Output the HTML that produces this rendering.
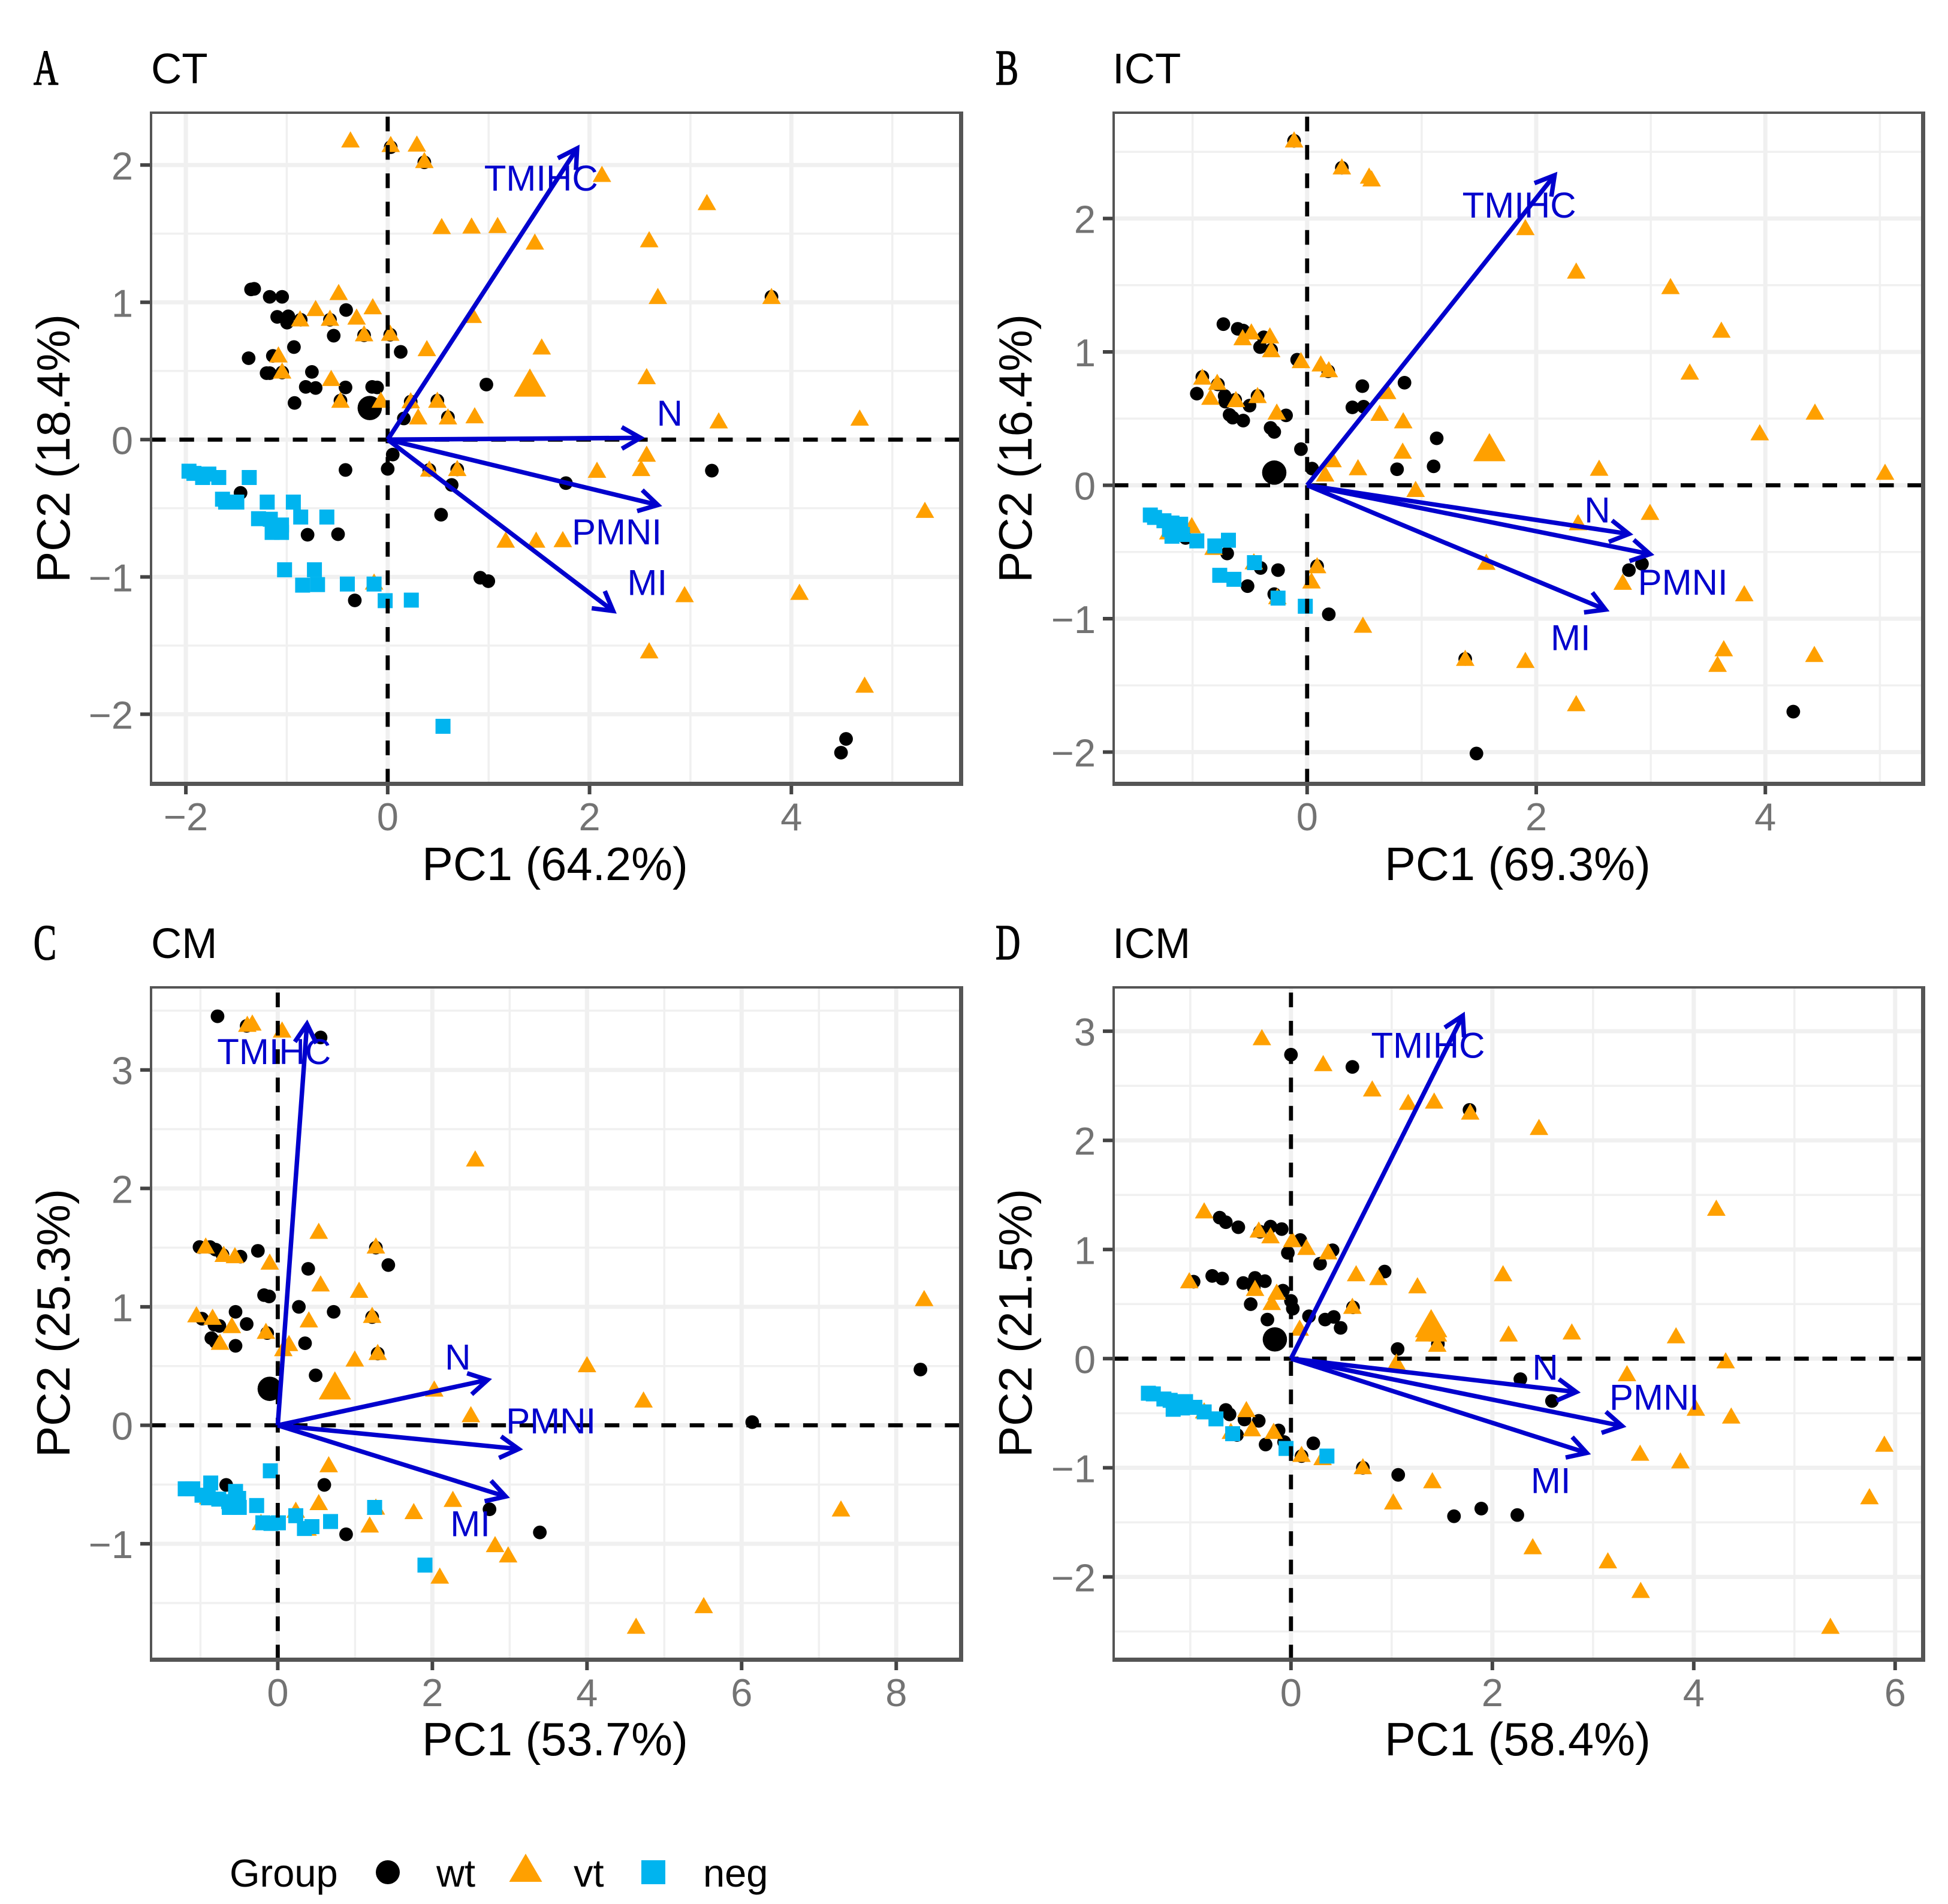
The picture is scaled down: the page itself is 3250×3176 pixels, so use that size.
<!DOCTYPE html>
<html lang="en">
<head>
<meta charset="utf-8">
<title>PCA biplots CT ICT CM ICM</title>
<style>
html,body{margin:0;padding:0;background:#fff;}
svg{display:block;font-family:"Liberation Sans",Arial,sans-serif;}
.tag{font-family:"Liberation Serif",serif;font-size:84px;stroke:#000;stroke-width:1.6px;}
.title{font-size:71px;fill:#000;}
.axt{font-size:77.5px;fill:#000;text-anchor:middle;}
.leg{font-size:65px;fill:#000;}
</style>
</head>
<body>
<svg id="figure" xmlns="http://www.w3.org/2000/svg" width="3250" height="3176" viewBox="0 0 3250 3176">
  <rect x="0" y="0" width="3250" height="3176" fill="#fff"/>

  <text class="tag" transform="translate(56,141) scale(0.68,1)">A</text>
  <text class="title" x="252" y="139">CT</text>
  <text class="axt" x="926" y="1468">PC1 (64.2%)</text>
  <text class="axt" transform="translate(116,748) rotate(-90) scale(1.01,1)">PC2 (18.4%)</text>
  <g id="panel-ct"></g>

  <text class="tag" transform="translate(1661,141) scale(0.68,1)">B</text>
  <text class="title" x="1856" y="139">ICT</text>
  <text class="axt" x="2532" y="1468">PC1 (69.3%)</text>
  <text class="axt" transform="translate(1721,748) rotate(-90) scale(1.01,1)">PC2 (16.4%)</text>
  <g id="panel-ict"></g>

  <text class="tag" transform="translate(56,1600) scale(0.68,1)">C</text>
  <text class="title" x="252" y="1598">CM</text>
  <text class="axt" x="926" y="2928">PC1 (53.7%)</text>
  <text class="axt" transform="translate(116,2207) rotate(-90) scale(1.01,1)">PC2 (25.3%)</text>
  <g id="panel-cm"></g>

  <text class="tag" transform="translate(1661,1600) scale(0.68,1)">D</text>
  <text class="title" x="1856" y="1598">ICM</text>
  <text class="axt" x="2532" y="2928">PC1 (58.4%)</text>
  <text class="axt" transform="translate(1721,2207) rotate(-90) scale(1.01,1)">PC2 (21.5%)</text>
  <g id="panel-icm"></g>

  <g>
    <text class="leg" x="383" y="3147">Group</text>
    <circle cx="647" cy="3123" r="20" fill="#000"/>
    <text class="leg" x="728" y="3147">wt</text>
    <polygon points="877,3092 904.5,3139 849.5,3139" fill="#FFA000"/>
    <text class="leg" x="957" y="3147">vt</text>
    <rect x="1070" y="3103" width="40" height="40" fill="#00B4EF"/>
    <text class="leg" x="1173" y="3147">neg</text>
  </g>
</svg>

<script>
const loadingNames = ['TMIHC', 'N', 'PMNI', 'MI'];

/* Panel A: CT */
const ctXTicks = [-2, 0, 2, 4];
const ctYTicks = [-2, -1, 0, 1, 2];
const ctLoadX = [1.877, 2.505, 2.677, 2.234];
const ctLoadY = [2.121, 0.013, -0.476, -1.248];
const ctLabelX = [1.52, 2.794, 2.27, 2.572];
const ctLabelY = [1.896, 0.184, -0.68, -1.048];
const ctWtCentroid = [[-0.178, 0.23]];
const ctVtCentroid = [[1.409, 0.409]];
const ctWt = [[-1.354,1.094],[-1.323,1.098],[-1.169,1.04],[-1.046,1.04],[-1.095,.894],[-.985,.898],[-.997,.852],[-.412,.944],[-.572,.873],[-.862,.873],[-.234,.76],[.025,.764],[-.535,.757],[.129,.639],[-.929,.674],[-1.138,.61],[-1.378,.593],[-1.2,.484],[-1.169,.484],[-.751,.493],[-1.046,.489],[-.812,.384],[-.714,.376],[-.418,.38],[-.154,.384],[-.105,.38],[-.923,.267],[-.468,.284],[.978,.401],[.492,.284],[.228,.276],[.16,.154],[.597,.163],[3.803,1.04],[.03,2.13],[.363,2.02],[-.418,-.221],[0,-.213],[.05,-.109],[3.212,-.226],[.412,-.221],[.689,-.217],[1.766,-.317],[.634,-.33],[-1.458,-.388],[.529,-.547],[-.794,-.693],[-.492,-.689],[.917,-1.006],[.997,-1.031],[-.326,-1.171],[4.542,-2.18],[4.492,-2.28]];
const ctVt = [[-.369,2.18],[.03,2.147],[.289,2.15],[.363,2.03],[2.123,1.929],[3.163,1.724],[.535,1.549],[.831,1.553],[1.089,1.557],[1.458,1.436],[2.591,1.453],[2.677,1.04],[3.803,1.04],[-.486,1.069],[-.714,.952],[-.868,.877],[-.572,.881],[-.308,.89],[-.148,.965],[-.234,.768],[.025,.772],[.843,.902],[.388,.66],[1.526,.672],[-1.083,.614],[-1.046,.497],[-.56,.443],[2.566,.456],[-.468,.284],[-.068,.284],[.228,.28],[.492,.284],[.302,.163],[.597,.163],[.862,.171],[3.28,.134],[4.677,.154],[2.566,-.109],[.412,-.217],[.689,-.213],[2.074,-.226],[2.511,-.213],[5.323,-.518],[1.169,-.735],[1.471,-.735],[1.735,-.731],[2.942,-1.132],[4.08,-1.115],[-.135,-1.04],[2.591,-1.541],[4.726,-1.791]];
const ctNeg = [[-1.969,-.23],[-1.92,-.246],[-1.834,-.276],[-1.772,-.251],[-1.674,-.276],[-1.372,-.276],[-1.637,-.434],[-1.606,-.455],[-1.495,-.455],[-1.194,-.455],[-.935,-.455],[-.862,-.564],[-.603,-.564],[-1.28,-.576],[-1.163,-.58],[-1.052,-.622],[-1.145,-.676],[-1.052,-.676],[-1.022,-.948],[-.726,-.948],[-.843,-1.06],[-.695,-1.056],[-.4,-1.052],[-.135,-1.052],[-.025,-1.173],[.234,-1.169],[.548,-2.088]];

/* Panel B: ICT */
const ictXTicks = [0, 2, 4];
const ictYTicks = [-2, -1, 0, 1, 2];
const ictLoadX = [2.16, 2.809, 2.993, 2.604];
const ictLoadY = [2.324, -0.365, -0.516, -0.932];
const ictLabelX = [1.851, 2.533, 3.28, 2.3];
const ictLabelY = [2.092, -0.193, -0.735, -1.151];
const ictWtCentroid = [[-0.287, 0.095]];
const ictVtCentroid = [[1.591, 0.279]];
const ictWt = [[-.114,2.582],[.303,2.38],[-.731,1.208],[-.606,1.173],[-.558,1.16],[-.379,1.109],[-.411,1.036],[-.314,1.014],[-.087,.941],[.184,.855],[.482,.743],[.85,.769],[-.963,.687],[-.915,.812],[-.779,.756],[-.72,.67],[-.714,.627],[-.628,.64],[-.433,.67],[-.503,.597],[-.677,.528],[-.65,.507],[-.558,.485],[-.184,.524],[-.319,.43],[-.287,.4],[-.054,.271],[.395,.584],[.493,.589],[1.131,.352],[.043,.125],[.785,.12],[1.104,.142],[-.698,-.511],[-1.061,-.395],[-.406,-.62],[-.254,-.636],[.087,-.606],[-.52,-.756],[-.287,-.816],[.189,-.967],[2.809,-.636],[2.923,-.589],[1.38,-1.302],[4.244,-1.697],[1.478,-2.011]];
const ictVt = [[-.114,2.586],[.303,2.384],[.541,2.315],[.563,2.294],[1.905,1.929],[2.349,1.603],[3.172,1.487],[3.616,1.16],[3.34,.846],[4.433,.546],[3.951,.391],[5.045,.095],[2.549,.125],[-.487,1.147],[-.563,1.104],[-.325,1.117],[-.314,1.014],[-.054,.932],[.119,.907],[.189,.864],[-.915,.808],[-.785,.769],[-.844,.657],[-.622,.64],[-.433,.67],[-.265,.546],[.698,.7],[.633,.537],[.839,.481],[.834,.253],[.222,.189],[.444,.129],[.157,.082],[.947,-.034],[2.993,-.206],[2.365,-.283],[-1.007,-.305],[-1.212,-.352],[-.817,-.468],[-.465,-.576],[1.564,-.58],[.087,-.606],[2.755,-.73],[.038,-.72],[3.816,-.816],[-.26,-.838],[.487,-1.052],[3.637,-1.228],[4.428,-1.271],[3.583,-1.345],[1.38,-1.3],[1.905,-1.316],[2.349,-1.64]];
const ictNeg = [[-1.369,-.223],[-1.332,-.241],[-1.25,-.266],[-1.18,-.283],[-1.104,-.292],[-1.202,-.331],[-1.115,-.339],[-1.18,-.382],[-1.088,-.369],[-.963,-.417],[-.806,-.455],[-.687,-.412],[-.763,-.675],[-.639,-.705],[-.46,-.58],[-.254,-.846],[-.016,-.907]];

/* Panel C: CM */
const cmXTicks = [0, 2, 4, 6, 8];
const cmYTicks = [-1, 0, 1, 2, 3];
const cmLoadX = [0.378, 2.715, 3.116, 2.948];
const cmLoadY = [3.388, 0.384, -0.2, -0.601];
const cmLabelX = [-0.048, 2.329, 3.534, 2.49];
const cmLabelY = [3.145, 0.568, 0.027, -0.839];
const cmWtCentroid = [[-0.104, 0.308]];
const cmVtCentroid = [[0.739, 0.33]];
const cmWt = [[-.779,3.453],[-.402,3.372],[.554,3.274],[-1.012,1.505],[-.876,1.505],[-.803,1.483],[-.715,1.44],[-.482,1.424],[-.257,1.473],[1.269,1.5],[1.43,1.353],[.394,1.321],[-.177,1.099],[-.112,1.088],[.273,1],[-.546,.958],[.723,.958],[-.98,.9],[1.221,.914],[-.819,.849],[-.755,.839],[-.402,.855],[-.859,.736],[-.803,.704],[-.546,.671],[.353,.693],[-.137,.779],[1.293,.606],[.49,.422],[8.313,.471],[6.137,.027],[-.667,-.503],[.602,-.503],[2.739,-.709],[3.39,-.904],[.884,-.92]];
const cmVt = [[-.394,3.382],[-.329,3.393],[.056,3.334],[-.932,1.511],[-.699,1.44],[-.554,1.429],[-.104,1.375],[.53,1.635],[1.269,1.511],[.554,1.191],[1.052,1.137],[2.554,2.246],[8.361,1.067],[-1.052,.93],[-.843,.909],[-.594,.839],[1.221,.925],[.402,.887],[-.153,.79],[-.747,.698],[.145,.687],[.072,.644],[1.293,.612],[.996,.557],[4,.509],[2.024,.303],[4.731,.211],[2.498,.087],[.659,-.336],[.53,-.655],[2.265,-.628],[1.269,-.693],[.233,-.72],[1.759,-.731],[1.189,-.844],[-.217,-.823],[.386,-.871],[7.285,-.709],[2.811,-1.01],[2.98,-1.097],[2.096,-1.276],[5.51,-1.525],[4.635,-1.699],[-.9,-.606]];
const cmNeg = [[-1.197,-.536],[-1.1,-.536],[-.867,-.487],[-.98,-.59],[-.9,-.612],[-.763,-.623],[-.635,-.644],[-.546,-.558],[-.627,-.693],[-.506,-.617],[-.498,-.693],[-.096,-.384],[-.273,-.677],[-.193,-.823],[-.088,-.828],[.008,-.823],[.233,-.763],[.683,-.812],[.345,-.871],[.442,-.855],[1.253,-.693],[1.904,-1.18]];

/* Panel D: ICM */
const icmXTicks = [0, 2, 4, 6];
const icmYTicks = [-2, -1, 0, 1, 2, 3];
const icmLoadX = [1.706, 2.833, 3.288, 2.937];
const icmLoadY = [3.143, -0.306, -0.617, -0.864];
const icmLabelX = [1.361, 2.525, 3.608, 2.58];
const icmLabelY = [2.861, -0.088, -0.364, -1.128];
const icmWtCentroid = [[-0.16, 0.176]];
const icmVtCentroid = [[1.392, 0.317]];
const icmWt = [[0,2.785],[.61,2.673],[1.773,2.279],[-.708,1.292],[-.647,1.25],[-.523,1.204],[-.203,1.21],[-.092,1.187],[-.308,1.163],[.092,1.087],[-.031,.969],[.413,.993],[.289,.87],[.93,.798],[-.782,.758],[-.683,.734],[-.967,.705],[-.357,.74],[-.474,.693],[-.259,.71],[-.08,.623],[0,.529],[.018,.458],[-.4,.499],[-.369,.652],[.616,.47],[-.234,.358],[.179,.388],[.339,.358],[.425,.382],[.493,.282],[1.059,.088],[1.459,.135],[2.278,-.188],[2.592,-.388],[-.647,-.47],[-.61,-.511],[-.462,-.558],[-.32,-.57],[-.123,-.658],[-.536,-.699],[-.068,-.764],[-.252,-.787],[.222,-.776],[.105,-.893],[.714,-1],[1.065,-1.065],[1.619,-1.444],[1.89,-1.374],[2.248,-1.433]];
const icmVt = [[-.289,2.938],[.32,2.7],[.807,2.468],[1.164,2.345],[1.422,2.357],[1.78,2.256],[2.463,2.115],[4.224,1.375],[-.862,1.351],[-.32,1.175],[-.203,1.122],[.012,1.087],[.154,1.016],[.369,.975],[.647,.775],[.868,.74],[-1.01,.71],[-.357,.64],[1.256,.664],[-.142,.605],[-.191,.511],[2.106,.775],[.61,.476],[.086,.276],[1.324,.223],[1.459,.223],[2.161,.223],[2.789,.241],[3.824,.206],[1.453,.129],[4.317,-.023],[1.047,-.035],[3.337,-.141],[4.021,-.458],[-.443,-.47],[-.862,-.482],[4.372,-.529],[-.172,-.67],[-.388,-.646],[-.597,-.67],[3.467,-.87],[5.893,-.787],[.105,-.881],[.314,-.91],[.714,-.993],[3.867,-.94],[1.404,-1.122],[1.016,-1.316],[5.745,-1.269],[2.401,-1.727],[3.147,-1.856],[3.473,-2.127],[5.357,-2.456]];
const icmNeg = [[-1.416,-.317],[-1.367,-.323],[-1.262,-.37],[-1.2,-.382],[-1.139,-.394],[-1.047,-.394],[-1.17,-.464],[-1.078,-.452],[-.954,-.446],[-.862,-.488],[-.745,-.552],[-.579,-.688],[-.049,-.823],[.357,-.893]];

const SVG_NS = 'http://www.w3.org/2000/svg';
const PANEL_SPECS = [
  {key:'ct', box:[252,1604,188,1307], xLim:[-2.345,5.685], yLim:[2.381,-2.505], xTicks:ctXTicks, yTicks:ctYTicks, wt:ctWt, vt:ctVt, neg:ctNeg, wtC:ctWtCentroid, vtC:ctVtCentroid, lx:ctLoadX, ly:ctLoadY, tx:ctLabelX, ty:ctLabelY},
  {key:'ict', box:[1858,3209,188,1307], xLim:[-1.689,5.38], yLim:[2.793,-2.236], xTicks:ictXTicks, yTicks:ictYTicks, wt:ictWt, vt:ictVt, neg:ictNeg, wtC:ictWtCentroid, vtC:ictVtCentroid, lx:ictLoadX, ly:ictLoadY, tx:ictLabelX, ty:ictLabelY},
  {key:'cm', box:[252,1604,1647,2768], xLim:[-1.639,8.843], yLim:[3.697,-1.976], xTicks:cmXTicks, yTicks:cmYTicks, wt:cmWt, vt:cmVt, neg:cmNeg, wtC:cmWtCentroid, vtC:cmVtCentroid, lx:cmLoadX, ly:cmLoadY, tx:cmLabelX, ty:cmLabelY},
  {key:'icm', box:[1858,3209,1647,2768], xLim:[-1.761,6.281], yLim:[3.402,-2.756], xTicks:icmXTicks, yTicks:icmYTicks, wt:icmWt, vt:icmVt, neg:icmNeg, wtC:icmWtCentroid, vtC:icmVtCentroid, lx:icmLoadX, ly:icmLoadY, tx:icmLabelX, ty:icmLabelY}
];

function make(tag, attrs, parent) {
  const node = document.createElementNS(SVG_NS, tag);
  for (const k in attrs) node.setAttribute(k, attrs[k]);
  parent.appendChild(node);
  return node;
}
function minorBreaks(ticks, lim) {
  const step = ticks[1] - ticks[0];
  const lo = Math.min(lim[0], lim[1]);
  const hi = Math.max(lim[0], lim[1]);
  const out = [];
  for (let v = ticks[0] - step / 2; v < hi; v += step) {
    if (v > lo) out.push(v);
  }
  for (let v = ticks[0] - 1.5 * step; v > lo; v -= step) out.push(v);
  return out;
}
function fmt(v) { return v < 0 ? '\u2212' + Math.abs(v) : String(v); }

function drawPanel(p) {
  const root = document.getElementById('panel-' + p.key);
  const [L, R, T, B] = p.box;
  const sx = v => L + (v - p.xLim[0]) / (p.xLim[1] - p.xLim[0]) * (R - L);
  const sy = v => T + (v - p.yLim[0]) / (p.yLim[1] - p.yLim[0]) * (B - T);

  minorBreaks(p.xTicks, p.xLim).forEach(v => {
    const el = make('line', {x1:sx(v), x2:sx(v), y1:T, y2:B, stroke:'#F0F0F0', 'stroke-width':3.5}, root);
    
    
  });
  minorBreaks(p.yTicks, p.yLim).forEach(v => {
    const el = make('line', {x1:L, x2:R, y1:sy(v), y2:sy(v), stroke:'#F0F0F0', 'stroke-width':3.5}, root);
    
    
  });
  p.xTicks.forEach(v => {
    const el = make('line', {x1:sx(v), x2:sx(v), y1:T, y2:B, stroke:'#F0F0F0', 'stroke-width':7}, root);
    
    
    const tick = make('line', {x1:sx(v), x2:sx(v), y1:B, y2:B + 18, stroke:'#444', 'stroke-width':6}, root);
    
    
    const lab = make('text', {x:sx(v), y:B + 78, 'text-anchor':'middle', 'font-size':65, fill:'#737373'}, root);
    lab.textContent = fmt(v);
    
    
  });
  p.yTicks.forEach(v => {
    const el = make('line', {x1:L, x2:R, y1:sy(v), y2:sy(v), stroke:'#F0F0F0', 'stroke-width':7}, root);
    
    
    const tick = make('line', {x1:L - 18, x2:L, y1:sy(v), y2:sy(v), stroke:'#444', 'stroke-width':6}, root);
    
    
    const lab = make('text', {x:L - 30, y:sy(v) + 24, 'text-anchor':'end', 'font-size':65, fill:'#737373'}, root);
    lab.textContent = fmt(v);
    
    
  });

  const circle = (d, r, name) => {
    const el = make('circle', {cx:sx(d[0]), cy:sy(d[1]), r:r, fill:'#000'}, root);
    
    
  };
  const triangle = (d, w, h, name) => {
    const x = sx(d[0]), y = sy(d[1]) - 1.5;
    const pts = [x + ',' + (y - h / 2), (x + w / 2) + ',' + (y + h / 2), (x - w / 2) + ',' + (y + h / 2)].join(' ');
    const el = make('polygon', {points:pts, fill:'#FFA000'}, root);
    
    
  };
  const square = (d, s, name) => {
    const el = make('rect', {x:sx(d[0]) - s / 2, y:sy(d[1]) - s / 2, width:s, height:s, fill:'#00B4EF'}, root);
    
    
  };

  p.wt.forEach(d => circle(d, 11.4, 'point-wt'));
  p.wtC.forEach(d => circle(d, 20.3, 'centroid-wt'));
  p.vt.forEach(d => triangle(d, 31, 27, 'point-vt'));
  p.vtC.forEach(d => triangle(d, 54, 47, 'centroid-vt'));
  p.neg.forEach(d => square(d, 25, 'point-neg'));

  const hz = make('line', {x1:L, x2:R, y1:sy(0), y2:sy(0), stroke:'#000', 'stroke-width':6.8, 'stroke-dasharray':'24.5 22.8'}, root);
  
  
  const vt = make('line', {x1:sx(0), x2:sx(0), y1:B, y2:T, stroke:'#000', 'stroke-width':6.8, 'stroke-dasharray':'24.5 22.8'}, root);
  
  

  loadingNames.forEach((name, i) => {
    const x0 = sx(0), y0 = sy(0), x1 = sx(p.lx[i]), y1 = sy(p.ly[i]);
    const a = Math.atan2(y1 - y0, x1 - x0);
    const len = 36, spread = Math.PI / 6;
    const head = [
      (x1 - len * Math.cos(a - spread)) + ',' + (y1 - len * Math.sin(a - spread)),
      x1 + ',' + y1,
      (x1 - len * Math.cos(a + spread)) + ',' + (y1 - len * Math.sin(a + spread))
    ].join(' ');
    const shaft = make('line', {x1:x0, y1:y0, x2:x1, y2:y1, stroke:'#0000CD', 'stroke-width':7.5}, root);
    
    
    const tip = make('polyline', {points:head, fill:'none', stroke:'#0000CD', 'stroke-width':7.5}, root);
    
    
    const lab = make('text', {x:sx(p.tx[i]), y:sy(p.ty[i]) + 19, 'text-anchor':'middle', 'font-size':60, fill:'#0000CD'}, root);
    lab.textContent = name;
    
    
  });

  const edges = [[L - 2, T - 2, R - L + 4, 4], [L - 2, T - 2, 4, B - T + 4], [R - 4, T - 2, 7, B - T + 6], [L - 2, B - 3, R - L + 5, 7]];
  edges.forEach(e => {
    const el = make('rect', {x:e[0], y:e[1], width:e[2], height:e[3], fill:'#555'}, root);
    
    
  });
}

PANEL_SPECS.forEach(drawPanel);
</script>
</body>
</html>
